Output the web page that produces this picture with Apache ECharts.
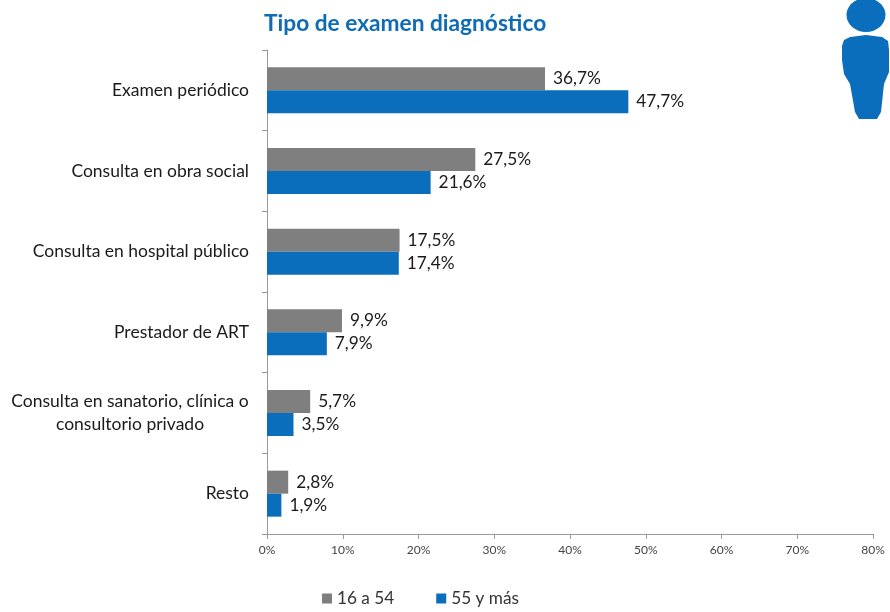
<!DOCTYPE html>
<html><head><meta charset="utf-8">
<style>html,body{margin:0;padding:0;background:#fff}#c{width:890px;height:612px}</style>
<script src="https://cdn.jsdelivr.net/npm/echarts@6/dist/echarts.min.js"></script>
</head><body><div id="c"></div>
<script>
const categories = ["Examen periódico","Consulta en obra social","Consulta en hospital público","Prestador de ART","Consulta en sanatorio, clínica o\nconsultorio privado","Resto"];
const young = [36.7,27.5,17.5,9.9,5.7,2.8];
const old = [47.7,21.6,17.4,7.9,3.5,1.9];
const ticks = [0,10,20,30,40,50,60,70,80];
const chart = echarts.init(document.getElementById('c'));
const fmt = p => p.value.toFixed(1).replace('.', ',') + '%';
const lab = {show:true,position:'right',distance:8,formatter:fmt,color:'#1a1a1a',fontSize:17.3,fontFamily:"Lato"};
chart.setOption({
 animation:false,
 title:{text:'Tipo de examen diagnóstico',left:259,top:7,textStyle:{color:'#0f6cb3',fontSize:22.7,fontWeight:'bold',fontFamily:"Lato"}},
 grid:{left:267,right:17,top:50,bottom:78},
 legend:{bottom:0,left:317,itemWidth:10,itemHeight:10,itemGap:42,icon:'rect',textStyle:{fontSize:17.2,color:'#333',fontFamily:"Lato"},data:['16 a 54','55 y más']},
 xAxis:{type:'value',min:0,max:80,interval:10,splitLine:{show:false},
  axisLine:{show:true,lineStyle:{color:'#999'}},axisTick:{show:true,lineStyle:{color:'#999'}},
  axisLabel:{color:'#444',fontSize:12,margin:10,fontFamily:"Lato",formatter:v=>v+'%'}},
 yAxis:{type:'category',inverse:true,data:categories,
  axisLine:{show:true,lineStyle:{color:'#999'}},axisTick:{show:true,lineStyle:{color:'#999'}},
  axisLabel:{color:'#1a1a1a',fontSize:17.5,margin:18,lineHeight:23,align:'right',fontFamily:"Lato",
   formatter:v=>v.includes('\n')?v.split('\n').map(l=>'{c|'+l+'}').join('\n'):v,
   rich:{c:{width:238,align:'center',fontSize:17.5,lineHeight:23,color:'#1a1a1a',fontFamily:"Lato"}}}},
 series:[
  {name:'16 a 54',type:'bar',data:young,barWidth:23,barGap:'0%',itemStyle:{color:'#7f7f7f'},label:lab},
  {name:'55 y más',type:'bar',data:old,barWidth:23,itemStyle:{color:'#0a6ebd'},label:lab}
 ],
 graphic:[
  {type:'ellipse',shape:{cx:866,cy:15,rx:19.5,ry:17},style:{fill:'#0a6ebd'}},
  {type:'polygon',shape:{points:[[850,37],[866,35],[882,37],[888,41],[889,50],[889,72],[884,84],[881,112],[877,119],[859,119],[855,112],[850,84],[844,74],[842,60],[842,46],[844,40]]},style:{fill:'#0a6ebd'}}
 ]
});
</script></body></html>
